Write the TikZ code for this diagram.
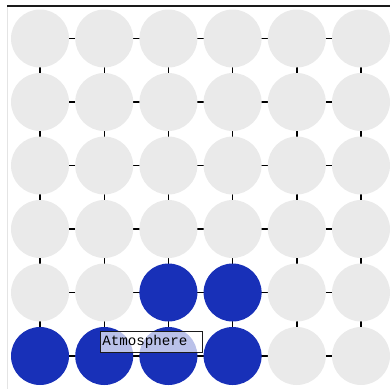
\documentclass[tikz,border=0pt]{standalone}
\usepackage{fontspec}
\setmonofont{Liberation Mono}
\usepackage{tikz}
\usetikzlibrary{backgrounds}
\definecolor{cellgray}{HTML}{EAEAEA}
\definecolor{cellblue}{HTML}{1830B8}
\definecolor{ink}{HTML}{1A1A1A}
\definecolor{framegray}{HTML}{E4E4E4}
\tikzset{
  cell/.style={circle,fill=cellgray,minimum size=58pt,inner sep=0pt},
  water/.style={cell,fill=cellblue},
  gridln/.style={black,line width=1.4pt},
  tagbox/.style={draw=ink,fill=white,fill opacity=0.7,text opacity=1,
                 line width=0.6pt,inner sep=2pt,
                 text width=98pt,align=left,minimum height=21pt,
                 font=\ttfamily\fontsize{14.2}{15}\selectfont}
}

\begin{document}
\begin{tikzpicture}[x=1pt,y=-1pt]
  \useasboundingbox (0,0) rectangle (390,389);
  % frame
  \draw[framegray,line width=0.8pt] (7,5.5) -- (7,389);
  \draw[ink,line width=2pt] (7,5.5) -- (390,5.5);
  % cells
  \foreach \r/\kinds in {1/{cell,cell,cell,cell,cell,cell},
                         2/{cell,cell,cell,cell,cell,cell},
                         3/{cell,cell,cell,cell,cell,cell},
                         4/{cell,cell,cell,cell,cell,cell},
                         5/{cell,cell,water,water,cell,cell},
                         6/{water,water,water,water,cell,cell}}
    \foreach \k [count=\c] in \kinds
      \node[\k] (c-\r-\c) at ({40+64.2*(\c-1)},{38.5+63.5*(\r-1)}) {};
  % grid behind the cells
  \begin{scope}[on background layer]
    \foreach \i in {1,...,6} {
      \draw[gridln] (c-\i-1.center) -- (c-\i-6.center);
      \draw[gridln] (c-1-\i.center) -- (c-6-\i.center);
    }
  \end{scope}
  \node[tagbox,anchor=north west] (atmos) at (100,331) {Atmosphere};
\end{tikzpicture}
\end{document}
